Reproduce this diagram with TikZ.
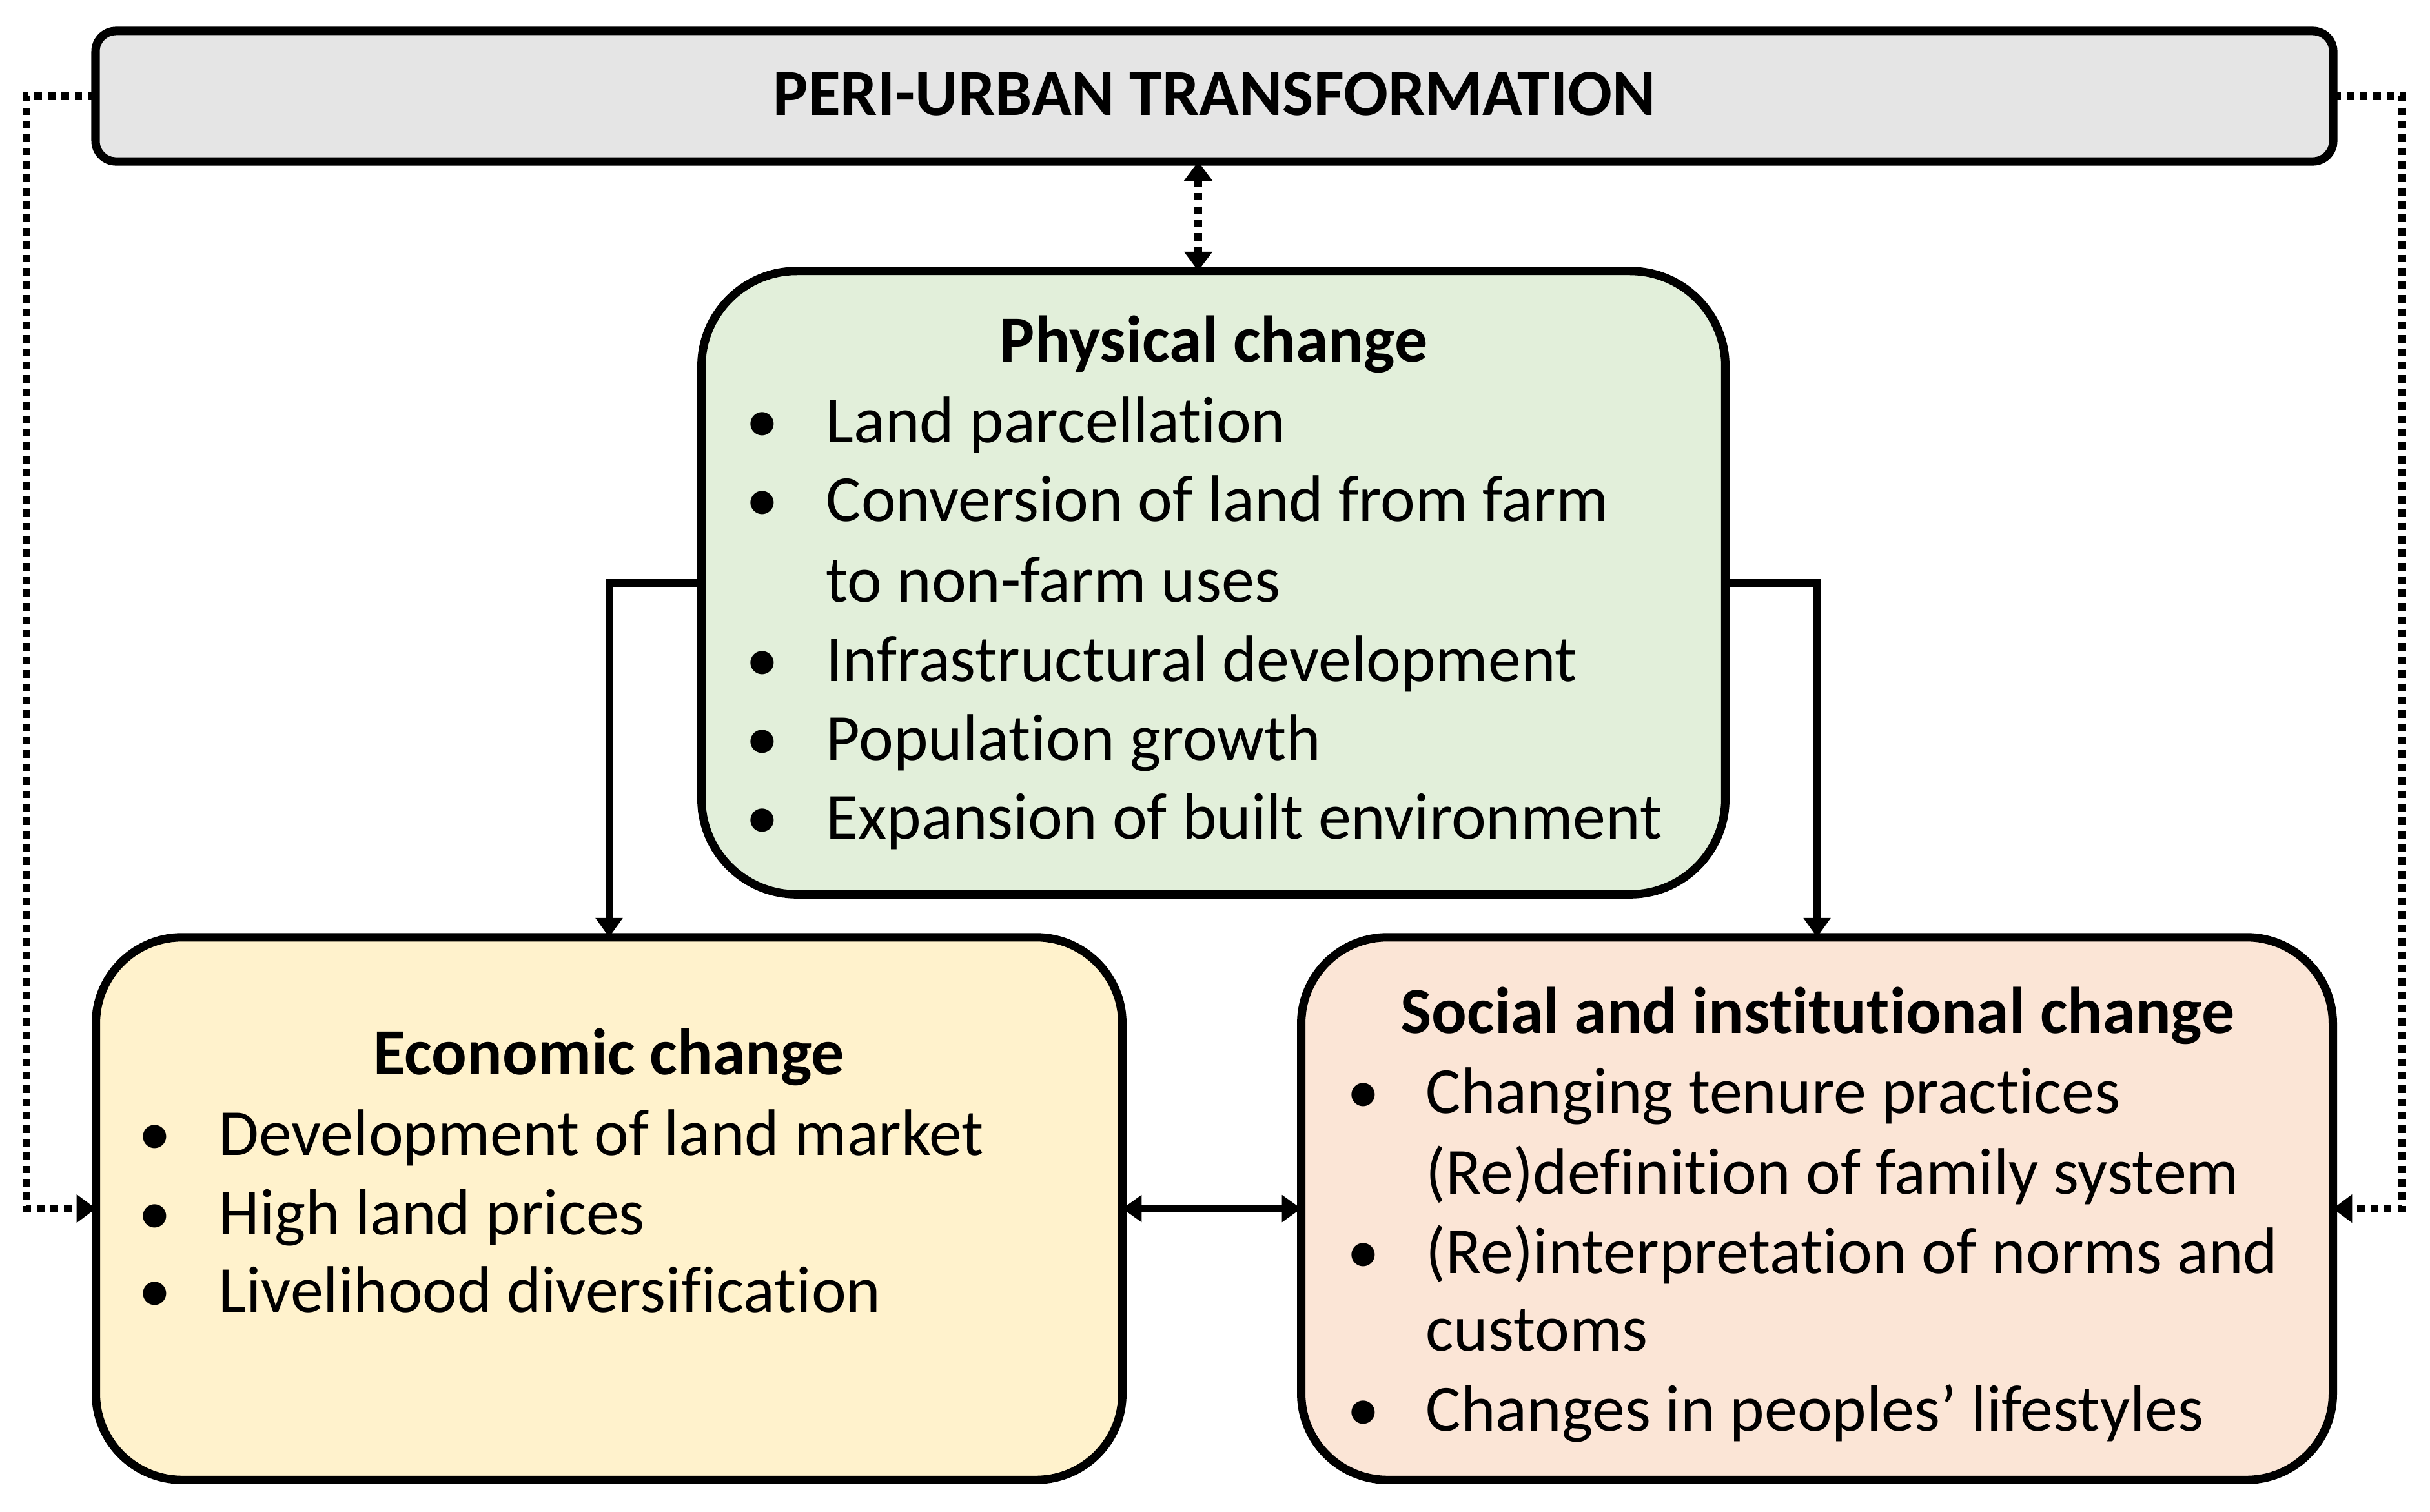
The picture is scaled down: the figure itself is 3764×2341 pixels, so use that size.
\documentclass[tikz,border=0pt]{standalone}
\usepackage{fontspec}
\setmainfont{Carlito}[Ligatures=NoCommon]
\usetikzlibrary{arrows.meta}
\definecolor{topgray}{HTML}{E5E5E5}
\definecolor{physgreen}{HTML}{E2EFDA}
\definecolor{econyellow}{HTML}{FFF2CC}
\definecolor{socpink}{HTML}{FBE5D6}
\tikzset{
  box/.style={draw=black, line width=3.7pt, outer sep=0pt, inner sep=0pt},
  txt/.style={anchor=mid west, inner sep=0pt, font=\fontsize{29}{35}\selectfont},
  bul/.style={anchor=mid, inner sep=0pt, font=\fontsize{29}{35}\selectfont},
  ttl/.style={anchor=mid, inner sep=0pt, font=\fontsize{29}{35}\selectfont\bfseries},
  conn/.style={line width=3.4pt, -{Triangle[length=8.5pt,width=11.5pt]}},
  dconn/.style={line width=3.4pt, {Triangle[length=8.5pt,width=11.5pt]}-{Triangle[length=8.5pt,width=11.5pt]}},
  dotconn/.style={line width=3.3pt, dash pattern=on 3.3pt off 2.6pt, -{Triangle[length=8.5pt,width=12pt]}},
  ddotconn/.style={line width=3.3pt, dash pattern=on 3.3pt off 2.6pt, {Triangle[length=8.5pt,width=12pt]}-{Triangle[length=8.5pt,width=12pt]}}
}
\begin{document}
\begin{tikzpicture}[x=0.01cm,y=-0.01cm]
\useasboundingbox[fill=white] (0,0) rectangle (3764,2341);
% boxes
\node[box, fill=topgray, rounded corners=9pt, minimum width=34.64cm, minimum height=2.02cm] (top) at (1881,149) {};
\node[box, fill=physgreen, rounded corners=42pt, minimum width=15.85cm, minimum height=9.65cm] (phys) at (1879.5,902.5) {};
\node[box, fill=econyellow, rounded corners=38pt, minimum width=15.89cm, minimum height=8.40cm] (econ) at (943.5,1872) {};
\node[box, fill=socpink, rounded corners=38pt, minimum width=15.97cm, minimum height=8.40cm] (soc) at (2814.5,1872) {};
% top title
\node[ttl] (toptitle) at (1881,170) {PERI-URBAN TRANSFORMATION};
% physical
\node[ttl] (phystitle) at (1880,552) {Physical change};
\node[bul] (pb1) at (1181,677) {•};
\node[txt] (pt1) at (1279,677) {Land parcellation};
\node[bul] (pb2) at (1181,799) {•};
\node[txt] (pt2) at (1279,799) {Conversion of land from farm};
\node[txt] (pt3) at (1279,924) {to non-farm uses};
\node[bul] (pb4) at (1181,1047) {•};
\node[txt] (pt4) at (1279,1047) {Infrastructural development};
\node[bul] (pb5) at (1181,1169) {•};
\node[txt] (pt5) at (1279,1169) {Population growth};
\node[bul] (pb6) at (1181,1291) {•};
\node[txt] (pt6) at (1279,1291) {Expansion of built environment};
% economic
\node[ttl] (econtitle) at (943,1656) {Economic change};
\node[bul] (eb1) at (240,1781) {•};
\node[txt] (et1) at (338,1781) {Development of land market};
\node[bul] (eb2) at (240,1904) {•};
\node[txt] (et2) at (338,1904) {High land prices};
\node[bul] (eb3) at (240,2024) {•};
\node[txt] (et3) at (338,2024) {Livelihood diversification};
% social
\node[ttl] (soctitle) at (2815,1592) {Social and institutional change};
\node[bul] (sb1) at (2112,1716) {•};
\node[txt] (st1) at (2208,1716) {Changing tenure practices};
\node[txt] (st2) at (2208,1841) {(Re)definition of family system};
\node[bul] (sb3) at (2112,1964) {•};
\node[txt] (st3) at (2208,1964) {(Re)interpretation of norms and};
\node[txt] (st4) at (2208,2084) {customs};
\node[bul] (sb5) at (2112,2208) {•};
\node[txt] (st5) at (2208,2208) {Changes in peoples’ lifestyles};
% helper coordinates
\coordinate (lx) at (41,0);
\coordinate (rx) at (3721,0);
\coordinate (cx) at (1856,0);
% connectors
\draw[conn] (phys.west) -| (econ.north);
\draw[conn] (phys.east) -| (soc.north);
\draw[dconn] (econ.east) -- (soc.west);
\draw[ddotconn] (top.south -| cx) -- (phys.north -| cx);
\draw[dotconn] (top.west) -- (top.west -| lx) |- (econ.west);
\draw[dotconn] (top.east) -- (top.east -| rx) |- (soc.east);
\end{tikzpicture}
\end{document}
